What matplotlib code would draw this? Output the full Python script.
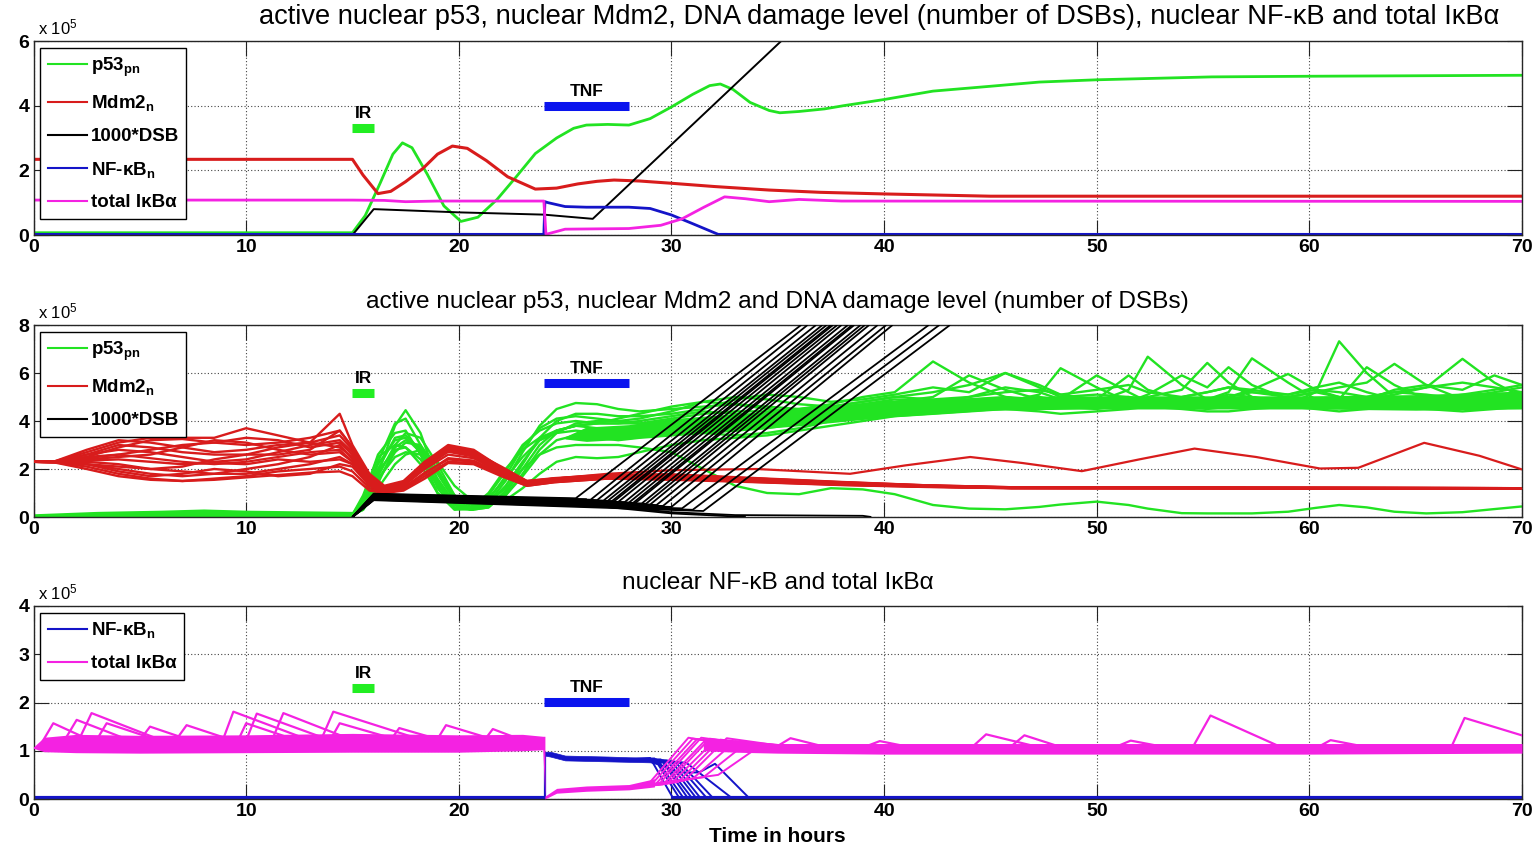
import numpy as np
import matplotlib
matplotlib.use('Agg')
import matplotlib.pyplot as plt
from matplotlib.lines import Line2D

plt.rcParams['font.family'] = ['Liberation Sans', 'DejaVu Sans']
plt.rcParams['mathtext.fontset'] = 'custom'
plt.rcParams['mathtext.rm'] = 'Liberation Sans'
plt.rcParams['mathtext.bf'] = 'Liberation Sans:bold'
plt.rcParams['mathtext.it'] = 'Liberation Sans:italic'

GREEN = '#22e322'
RED = '#d81c1c'
BLACK = '#000000'
BLUE = '#1414c8'
MAG = '#f422e2'
IRC = '#22ee22'
TNFC = '#0a14ee'

# ---------------- Panel 1 (single cell) ----------------
t_p53_1 = [0, 15, 15.6, 16.3, 16.9, 17.35, 17.8, 18.5, 19.3, 20.1, 20.9, 21.8, 22.7, 23.6, 24.6, 25.4, 26.0,
           27.0, 28.0, 29.0, 30.0, 31.0, 31.8, 32.3, 32.9, 33.7, 34.6, 35.1, 36.0, 37.2, 38.1, 40, 42.3, 45,
           47.3, 50, 55.4, 60, 70]
p53_1 = [0.07, 0.07, 0.6, 1.6, 2.5, 2.85, 2.7, 1.9, 0.9, 0.42, 0.55, 1.1, 1.8, 2.52, 3.0, 3.3, 3.4,
         3.42, 3.4, 3.6, 3.96, 4.35, 4.62, 4.67, 4.5, 4.1, 3.85, 3.78, 3.82, 3.9, 4.0, 4.19, 4.45, 4.6,
         4.73, 4.8, 4.89, 4.91, 4.94]
t_mdm2_1 = [0, 15, 15.5, 16.2, 16.8, 17.5, 18.3, 19.0, 19.7, 20.4, 21.3, 22.3, 23.6, 24.6, 25.6, 26.5, 27.3,
            28.5, 30, 32, 34.6, 37, 40, 45, 50, 70]
mdm2_1 = [2.34, 2.34, 1.85, 1.28, 1.35, 1.65, 2.05, 2.5, 2.75, 2.68, 2.3, 1.8, 1.42, 1.45, 1.58, 1.66, 1.7,
          1.67, 1.6, 1.5, 1.39, 1.32, 1.27, 1.2, 1.2, 1.2]
t_dsb_1 = [0, 15.0, 16.0, 20, 24, 26.3, 40]
dsb_1 = [0, 0, 0.8, 0.7, 0.63, 0.5, 9.0]
t_nfkb_1 = [0, 24.0, 24.05, 24.2, 25, 26, 28, 29, 30, 31, 32.2, 70]
nfkb_1 = [0.02, 0.02, 1.03, 1.0, 0.88, 0.86, 0.86, 0.82, 0.62, 0.35, 0.02, 0.02]
t_ikba_1 = [0, 15, 16.5, 17.5, 19, 24.0, 24.1, 25, 28, 29.5, 30.5, 31.5, 32.5, 33.5, 34.6, 36, 38, 70]
ikba_1 = [1.08, 1.08, 1.07, 1.03, 1.05, 1.05, 0.02, 0.18, 0.2, 0.3, 0.5, 0.85, 1.18, 1.12, 1.03, 1.1, 1.05, 1.04]

# ---------------- Panel 2 (ensemble: p53, Mdm2, DSB) ----------------
p53_pre_t = [0, 3, 6, 8, 10, 13, 15]
p53_pre_lo = [0.0, 0.0, 0.02, 0.03, 0.02, 0.02, 0.02]
p53_pre_hi = [0.1, 0.2, 0.25, 0.3, 0.25, 0.22, 0.2]

t_green_early = [15, 15.5, 16.2, 17.0, 17.5, 18.2, 19.0, 19.8, 20.6, 21.4, 22.2, 23.0, 23.8, 24.6, 25.5,
                 26.5, 27.5, 28.5, 30, 31.5, 33, 34.5, 36, 37.5, 39, 40.5]
green_early = [
    [0.1, 0.4, 1.8, 3.8, 4.45, 3.5, 1.5, 0.5, 0.3, 0.6, 1.5, 2.7, 3.8, 4.5, 4.75, 4.7, 4.5, 4.4, 4.5, 4.6, 4.7, 4.6, 4.5, 4.7, 5.0, 5.2],
    [0.1, 0.6, 2.3, 3.9, 4.1, 3.0, 1.2, 0.35, 0.3, 0.7, 1.7, 2.9, 3.7, 4.1, 4.2, 4.1, 4.0, 4.1, 4.4, 4.8, 5.0, 4.9, 4.7, 4.6, 4.8, 5.0],
    [0.1, 0.8, 2.6, 3.5, 3.6, 2.6, 1.0, 0.3, 0.35, 0.9, 1.9, 3.0, 3.6, 3.9, 4.0, 3.9, 3.9, 4.0, 4.2, 4.4, 4.3, 4.2, 4.3, 4.5, 4.7, 4.9],
    [0.1, 0.3, 1.4, 2.9, 3.2, 2.9, 1.8, 0.7, 0.3, 0.4, 1.0, 2.0, 3.0, 3.6, 3.8, 3.7, 3.6, 3.7, 3.9, 4.0, 4.0, 4.1, 4.2, 4.3, 4.5, 4.6],
    [0.1, 0.5, 1.9, 2.8, 2.9, 2.4, 1.3, 0.5, 0.4, 0.8, 1.6, 2.5, 3.2, 3.5, 3.6, 3.5, 3.5, 3.6, 3.8, 3.7, 3.6, 3.8, 4.0, 4.2, 4.4, 4.5],
    [0.1, 0.4, 1.6, 2.5, 2.7, 2.6, 1.9, 0.9, 0.5, 0.5, 0.9, 1.7, 2.6, 3.2, 3.4, 3.3, 3.2, 3.3, 3.4, 3.5, 3.6, 3.7, 3.9, 4.0, 4.2, 4.3],
    [0.1, 0.7, 2.2, 3.2, 3.3, 2.7, 1.4, 0.5, 0.3, 0.6, 1.3, 2.3, 3.2, 3.6, 3.8, 3.9, 4.1, 4.3, 4.6, 4.8, 4.7, 4.5, 4.4, 4.5, 4.6, 4.8],
    [0.1, 0.3, 1.2, 2.2, 2.6, 2.8, 2.3, 1.3, 0.7, 0.55, 0.7, 1.2, 1.8, 2.3, 2.5, 2.45, 2.5, 2.7, 3.0, 3.2, 3.3, 3.4, 3.6, 3.8, 4.0, 4.2],
    [0.1, 0.6, 2.0, 3.3, 3.4, 2.8, 1.6, 0.6, 0.35, 0.6, 1.2, 2.0, 2.6, 2.9, 3.0, 3.0, 3.0, 2.9, 2.7, 2.0, 1.3, 1.0, 0.95, 1.2, 1.15, 0.95],
    [0.1, 0.9, 2.5, 3.0, 2.9, 2.2, 1.0, 0.4, 0.4, 1.0, 2.0, 2.8, 3.3, 3.6, 3.8, 3.9, 3.9, 3.9, 4.1, 4.3, 4.4, 4.4, 4.5, 4.6, 4.8, 5.0],
    [0.1, 0.5, 1.7, 3.0, 3.5, 3.3, 2.2, 0.9, 0.4, 0.45, 0.9, 1.8, 2.8, 3.5, 3.9, 4.0, 4.0, 3.9, 3.7, 3.5, 3.4, 3.5, 3.7, 4.0, 4.3, 4.5],
    [0.1, 0.4, 1.5, 2.7, 3.1, 3.0, 2.0, 0.8, 0.3, 0.4, 1.1, 2.2, 3.3, 4.0, 4.3, 4.3, 4.2, 4.2, 4.3, 4.5, 4.9, 5.1, 5.0, 4.8, 4.9, 5.1],
]
t_green_late = [40.5, 42.3, 44, 45.7, 47.3, 48.3, 50, 51.5, 52.4, 54, 55.2, 56.2, 57.3, 59, 60.3, 61.4, 62.7,
                64.0, 65.5, 67.2, 68.7, 70]
green_late = [
    [5.2, 6.48, 5.6, 5.0, 4.9, 5.0, 5.1, 5.0, 4.9, 4.8, 4.9, 5.0, 5.2, 5.0, 4.9, 4.8, 5.0, 5.2, 5.1, 4.9, 5.0, 5.1],
    [5.0, 5.2, 5.5, 6.0, 5.4, 5.0, 4.8, 5.3, 6.68, 5.5, 4.9, 4.7, 4.8, 5.0, 5.2, 5.0, 4.8, 4.7, 4.9, 5.1, 5.3, 5.5],
    [4.9, 4.8, 4.6, 4.8, 5.1, 6.2, 5.4, 4.8, 4.6, 4.7, 4.9, 5.2, 6.61, 5.6, 4.9, 4.7, 4.6, 4.8, 5.0, 5.0, 4.9, 4.8],
    [4.6, 4.7, 4.9, 5.0, 4.8, 4.6, 4.5, 4.7, 5.0, 5.3, 6.42, 5.6, 5.0, 4.7, 5.2, 7.32, 6.0, 5.0, 4.6, 4.5, 4.7, 4.9],
    [4.5, 4.6, 4.7, 4.6, 4.5, 4.7, 4.9, 5.0, 4.8, 4.6, 4.5, 4.6, 4.8, 5.0, 5.2, 5.4, 5.6, 6.38, 5.5, 4.9, 4.7, 4.8],
    [4.3, 4.5, 4.7, 4.9, 5.0, 4.9, 5.9, 5.2, 4.8, 4.7, 4.9, 5.1, 5.0, 4.8, 4.6, 4.7, 4.9, 5.1, 5.4, 6.59, 5.6, 5.0],
    [4.8, 5.0, 5.9, 5.3, 4.9, 4.7, 4.6, 4.8, 5.1, 5.9, 5.4, 6.24, 5.5, 4.9, 4.7, 4.9, 6.24, 5.5, 4.9, 4.7, 4.6, 4.7],
    [4.2, 4.3, 4.4, 4.5, 4.4, 4.3, 4.4, 4.5, 4.6, 4.5, 4.4, 4.4, 4.5, 4.6, 4.5, 4.4, 4.5, 4.6, 4.5, 4.4, 4.5, 4.6],
    [0.95, 0.5, 0.35, 0.32, 0.42, 0.52, 0.64, 0.5, 0.35, 0.16, 0.15, 0.15, 0.15, 0.22, 0.38, 0.5, 0.4, 0.22, 0.15, 0.2, 0.33, 0.44],
    [5.0, 4.9, 5.0, 5.2, 5.3, 5.1, 4.9, 5.9, 5.3, 4.9, 4.8, 5.0, 5.3, 5.96, 5.3, 5.0, 4.9, 5.3, 5.5, 5.3, 5.9, 5.5],
    [4.5, 4.7, 5.0, 5.4, 5.2, 4.9, 4.8, 4.7, 4.8, 5.0, 5.2, 5.4, 5.3, 5.1, 5.4, 5.6, 5.2, 4.9, 4.8, 5.0, 5.2, 5.4],
    [5.1, 5.4, 5.2, 6.0, 5.5, 5.1, 5.3, 5.5, 5.2, 5.0, 5.2, 5.4, 5.2, 5.1, 5.3, 5.2, 5.0, 5.2, 5.4, 5.6, 5.4, 5.2],
]
green_band_t = [25.0, 26, 28, 30, 33, 36, 40, 45, 50, 55, 60, 65, 70]
green_band_lo = [3.25, 3.15, 3.25, 3.45, 3.6, 3.8, 4.15, 4.45, 4.5, 4.5, 4.5, 4.45, 4.5]
green_band_hi = [3.35, 3.75, 3.85, 4.1, 4.3, 4.5, 4.85, 5.0, 5.05, 5.05, 5.05, 5.1, 5.25]

t_red = [0, 1, 2.5, 4, 5.5, 7, 8.5, 10, 11.5, 13, 14.4, 15.0, 15.8, 16.5, 17.4, 18.4, 19.5, 20.7, 22, 23.2,
         24.5, 27, 30, 34, 38, 42, 46, 70]
red_lines = [
    [2.3, 2.32, 2.7, 3.1, 3.3, 3.3, 3.3, 3.7, 3.4, 3.1, 4.3, 3.0, 1.8, 1.3, 1.5, 2.3, 2.85, 2.7, 2.1, 1.5, 1.6, 1.75, 1.75, 1.6, 1.45, 1.32, 1.24, 1.2],
    [2.3, 2.3, 2.5, 2.9, 3.2, 3.25, 3.1, 3.0, 3.1, 3.3, 3.6, 2.9, 1.6, 1.15, 1.4, 2.25, 2.9, 2.65, 1.95, 1.4, 1.55, 1.7, 1.7, 1.55, 1.4, 1.3, 1.22, 1.2],
    [2.3, 2.28, 2.2, 2.0, 1.8, 1.7, 1.8, 2.0, 2.2, 2.5, 3.0, 2.4, 1.4, 1.05, 1.3, 2.0, 2.6, 2.45, 1.85, 1.35, 1.5, 1.65, 1.65, 1.5, 1.38, 1.28, 1.22, 1.2],
    [2.3, 2.27, 2.0, 1.7, 1.55, 1.5, 1.6, 1.7, 1.9, 2.0, 2.1, 1.9, 1.2, 1.0, 1.2, 1.8, 2.45, 2.35, 1.8, 1.33, 1.48, 1.62, 1.6, 1.48, 1.35, 1.27, 1.21, 1.19],
    [2.3, 2.31, 2.6, 2.8, 2.7, 2.5, 2.3, 2.4, 2.7, 3.0, 3.2, 2.7, 1.7, 1.25, 1.45, 2.2, 2.8, 2.6, 2.0, 1.45, 1.58, 1.72, 1.72, 1.58, 1.42, 1.3, 1.23, 1.2],
    [2.3, 2.3, 2.4, 2.5, 2.6, 2.9, 3.2, 3.1, 2.8, 2.6, 2.7, 2.3, 1.5, 1.1, 1.35, 2.15, 2.8, 2.6, 1.95, 1.42, 1.55, 1.68, 1.68, 1.52, 1.4, 1.28, 1.22, 1.2],
    [2.3, 2.29, 2.3, 2.2, 2.0, 2.1, 2.4, 2.6, 2.9, 3.1, 2.9, 2.5, 1.5, 1.1, 1.35, 2.1, 2.78, 2.58, 1.92, 1.38, 1.52, 1.66, 1.62, 1.5, 1.38, 1.27, 1.21, 1.19],
    [2.3, 2.3, 2.2, 1.9, 1.7, 1.8, 2.0, 1.9, 1.7, 1.8, 2.2, 2.1, 1.3, 1.0, 1.15, 1.7, 2.3, 2.25, 1.75, 1.3, 1.45, 1.6, 1.58, 1.46, 1.34, 1.26, 1.2, 1.18],
    [2.3, 2.32, 2.8, 3.2, 3.1, 2.9, 2.7, 2.8, 3.0, 3.1, 3.4, 2.8, 1.65, 1.2, 1.45, 2.3, 3.0, 2.8, 2.05, 1.5, 1.62, 1.76, 1.78, 1.62, 1.46, 1.32, 1.24, 1.2],
    [2.3, 2.28, 2.1, 1.8, 1.6, 1.5, 1.55, 1.65, 1.75, 1.85, 1.9, 1.7, 1.1, 1.0, 1.1, 1.6, 2.25, 2.2, 1.7, 1.3, 1.45, 1.6, 1.55, 1.45, 1.33, 1.25, 1.2, 1.18],
    [2.3, 2.31, 2.5, 2.6, 2.8, 3.0, 3.1, 3.3, 3.2, 2.9, 3.1, 2.6, 1.55, 1.15, 1.38, 2.2, 2.85, 2.65, 2.0, 1.45, 1.57, 1.7, 1.7, 1.55, 1.42, 1.3, 1.22, 1.2],
    [2.3, 2.29, 2.35, 2.4, 2.3, 2.2, 2.25, 2.2, 2.4, 2.3, 2.4, 2.2, 1.4, 1.05, 1.3, 2.05, 2.72, 2.52, 1.88, 1.36, 1.5, 1.64, 1.63, 1.5, 1.38, 1.28, 1.21, 1.19],
    [2.3, 2.3, 2.6, 3.0, 2.9, 2.7, 2.6, 2.6, 2.6, 2.8, 3.6, 2.9, 1.7, 1.25, 1.45, 2.25, 2.95, 2.75, 2.05, 1.48, 1.6, 1.74, 1.75, 1.6, 1.44, 1.31, 1.23, 1.2],
    [2.3, 2.28, 2.2, 2.1, 2.0, 1.9, 1.8, 1.8, 2.0, 2.2, 2.5, 2.2, 1.35, 1.05, 1.22, 1.85, 2.4, 2.3, 1.78, 1.34, 1.48, 1.62, 1.6, 1.48, 1.36, 1.27, 1.21, 1.19],
]
t_red_out = [0, 1, 2.5, 4, 5.5, 7, 8.5, 10, 11.5, 13, 14.4, 15.0, 15.8, 16.5, 17.4, 18.4, 19.5, 20.7, 22, 23.2,
             24.5, 27, 30, 34, 38.4, 41, 44.05, 46.5, 49.3, 52, 54.6, 57.5, 60.5, 62.3, 65.4, 68, 70]
red_out = [2.3, 2.3, 2.45, 2.6, 2.45, 2.3, 2.2, 2.3, 2.5, 2.7, 2.8, 2.3, 1.45, 1.1, 1.35, 2.1, 2.75, 2.6, 1.95, 1.45,
           1.6, 1.8, 1.95, 2.0, 1.8, 2.15, 2.5, 2.25, 1.91, 2.4, 2.85, 2.5, 2.02, 2.05, 3.09, 2.55, 1.98]
red_band_t = [24.5, 27, 30, 34, 38, 42, 46, 70]
red_band_lo = [1.45, 1.6, 1.58, 1.46, 1.34, 1.26, 1.2, 1.18]
red_band_hi = [1.62, 1.76, 1.78, 1.62, 1.46, 1.32, 1.24, 1.22]

dsb_y16 = [0.97, 0.96, 0.95, 0.93, 0.92, 0.9, 0.89, 0.88, 0.87, 0.85, 0.84, 0.82, 0.8, 0.79, 0.78, 0.77, 0.75,
           0.74, 0.73, 0.72, 0.7]
dsb_ts = [25.5, 26.2, 26.5, 26.8, 27.0, 27.2, 27.3, 27.5, 27.8, 28.0, 28.2, 28.3, 28.6, 28.8, 29.0, 29.3, 29.6,
          30.0, 30.5, 31.0, 31.5]
dsb_ys = [0.78, 0.72, 0.7, 0.68, 0.67, 0.66, 0.65, 0.63, 0.62, 0.6, 0.59, 0.58, 0.56, 0.55, 0.52, 0.5, 0.46,
          0.42, 0.36, 0.3, 0.25]
dsb_ttop = [36.1, 36.4, 36.8, 37.1, 37.3, 37.5, 37.6, 37.8, 38.0, 38.3, 38.5, 38.6, 38.9, 39.1, 39.3, 39.7, 40.1,
            40.4, 42.1, 42.6, 43.1]
t_dsb_flat1 = [15, 16, 20, 26, 30, 33, 39, 39.4]
dsb_flat1 = [0, 0.8, 0.7, 0.55, 0.2, 0.08, 0.05, 0]
t_dsb_flat2 = [15, 16, 20, 26, 30, 33.5]
dsb_flat2 = [0, 0.75, 0.65, 0.5, 0.15, 0]
dsb_band_t = [15, 16, 20, 24, 26]
dsb_band_lo = [0, 0.72, 0.65, 0.58, 0.52]
dsb_band_hi = [0, 0.97, 0.9, 0.84, 0.8]

# ---------------- Panel 3 (ensemble: NF-kB, IkBa) ----------------
ikb_pre_t = [0, 0.5, 2, 5, 10, 15, 20, 23, 23.95, 24.05]
ikb_pre_lo = [1.05, 0.98, 0.96, 0.95, 0.96, 0.97, 0.97, 1.0, 1.02, 0.0]
ikb_pre_hi = [1.08, 1.28, 1.34, 1.32, 1.33, 1.36, 1.33, 1.34, 1.3, 1.3]
ikb_pre_sp_t0 = [0.3, 1.3, 2.0, 2.8, 4.8, 6.5, 8.8, 9.5, 9.9, 11.1, 13.4, 13.8, 16.6, 18.8, 21.0]
ikb_pre_sp_tp = [0.93, 2.03, 2.73, 3.44, 5.48, 7.2, 9.4, 10.0, 10.5, 11.75, 14.1, 14.4, 17.2, 19.4, 21.6]
ikb_pre_sp_yp = [1.57, 1.64, 1.78, 1.57, 1.5, 1.53, 1.81, 1.57, 1.77, 1.78, 1.81, 1.57, 1.47, 1.53, 1.45]
ikb_pre_sp_t1 = [3.5, 5.5, 7.0, 7.0, 8.5, 10.5, 14.0, 13.5, 15.0, 16.0, 19.5, 18.5, 20.5, 23.0, 24.0]
ikb_low_t = [24.05, 24.6, 26, 28, 29.2]
ikb_low_lo = [0.0, 0.12, 0.16, 0.19, 0.25]
ikb_low_hi = [0.06, 0.22, 0.27, 0.3, 0.42]
ikb_tr = [28.8, 29.0, 29.2, 29.4, 29.6, 29.8, 30.0, 30.3, 30.6, 31.0, 31.5, 32.2]
ikb_yr = [0.25, 0.27, 0.28, 0.3, 0.3, 0.32, 0.33, 0.35, 0.38, 0.42, 0.45, 0.5]
ikb_tp = [30.8, 31.0, 31.2, 31.4, 31.6, 31.8, 32.0, 32.3, 32.6, 33.0, 33.5, 34.0]
ikb_yp = [1.27, 1.25, 1.24, 1.27, 1.22, 1.25, 1.2, 1.23, 1.26, 1.2, 1.15, 1.05]
ikb_ts = [33.5, 34, 34, 34.5, 34.5, 35, 35, 35.5, 35.5, 36, 36.5, 37]
ikb_post_t = [31.5, 33, 35, 40, 50, 60, 70]
ikb_post_lo = [1.0, 0.97, 0.95, 0.93, 0.93, 0.93, 0.95]
ikb_post_hi = [1.25, 1.2, 1.15, 1.15, 1.15, 1.15, 1.15]
ikb_post_sp_t0 = [35.0, 39.2, 44.2, 46.0, 51.0, 54.55, 60.5, 66.7]
ikb_post_sp_tp = [35.6, 39.8, 44.8, 46.6, 51.6, 55.35, 61.0, 67.3]
ikb_post_sp_yp = [1.26, 1.2, 1.34, 1.32, 1.21, 1.73, 1.22, 1.68]
ikb_post_sp_t1 = [37.5, 41.5, 47.5, 48.5, 53.5, 58.8, 63.0, 72.0]

nf_base_t = [0, 24.05]
nf_base_v = [0.02, 0.02]
nf_base2_t = [30, 70]
nf_base2_v = [0.02, 0.02]
nf_plat_t = [24.05, 24.3, 25, 27, 29, 29.5]
nf_plat_lo = [0.9, 0.88, 0.8, 0.78, 0.76, 0.7]
nf_plat_hi = [0.98, 0.98, 0.9, 0.88, 0.85, 0.82]
nf_t0 = [29.0, 29.2, 29.3, 29.5, 29.6, 29.8, 30.0, 30.2, 30.4]
nf_y0 = [0.85, 0.84, 0.82, 0.82, 0.8, 0.8, 0.78, 0.76, 0.75]
nf_tz = [30.1, 30.4, 30.6, 30.8, 31.0, 31.2, 31.4, 31.7, 32.0]
t_nf_late1 = [29.0, 30.0, 30.7, 32.9]
nf_late1 = [0.82, 0.78, 0.75, 0.0]
t_nf_late2 = [29.0, 30.3, 31.3, 32.05, 33.7]
nf_late2 = [0.8, 0.55, 0.55, 0.73, 0.0]

# stimulus markers
ir_span = [15, 16]
tnf_span = [24, 28]

# ---------------- Figure ----------------
fig = plt.figure(figsize=(15.39, 8.5), dpi=100)
W, H = 1539.0, 850.0
def axpos(top, bottom, left=33.5, right=1522):
    return [left / W, 1 - bottom / H, (right - left) / W, (bottom - top) / H]

ax1 = fig.add_axes(axpos(41, 235))
ax2 = fig.add_axes(axpos(325, 517))
ax3 = fig.add_axes(axpos(606, 799))

LW = 1.6

def pl(ax, t, v, c, lw=LW, z=2):
    ax.plot(t, v, color=c, lw=lw, solid_joinstyle='round', solid_capstyle='butt', zorder=z)

def style(ax, ymax, yticks, title, title_x=0.5, title_size=17.6):
    ax.set_xlim(0, 70)
    ax.set_ylim(0, ymax)
    ax.set_xticks(range(0, 71, 10))
    ax.set_yticks(yticks)
    ax.grid(True, linestyle=(0, (1, 2)), color='#444444', lw=0.8)
    ax.set_axisbelow(True)
    ax.tick_params(direction='in', length=11, width=0.8, top=True, right=True,
                   labelsize=14, pad=3, colors='#222222', labelcolor='black')
    for lb in ax.get_xticklabels() + ax.get_yticklabels():
        lb.set_fontweight('bold')
    for s in ax.spines.values():
        s.set_color('#262626')
        s.set_linewidth(1.0)
    ax.text(0.003, 1.018, r'x 10$^{5}$', transform=ax.transAxes, ha='left', va='bottom', fontsize=12)
    ax.set_title(title, fontsize=title_size, pad=12, x=title_x)

def stim(ax, y_ir, y_tnf, d):
    ax.plot(ir_span, [y_ir, y_ir], color=IRC, lw=6.5, solid_capstyle='butt', zorder=5)
    ax.plot(tnf_span, [y_tnf, y_tnf], color=TNFC, lw=6.5, solid_capstyle='butt', zorder=5)
    ax.text(np.mean(ir_span), y_ir + d, 'IR', ha='center', va='bottom', fontsize=12.5, fontweight='bold', zorder=6)
    ax.text(np.mean(tnf_span), y_tnf + d, 'TNF', ha='center', va='bottom', fontsize=12.5, fontweight='bold', zorder=6)

def legend(ax, items, top_px, ax_top_px, ax_bot_px):
    handles = [Line2D([], [], color=c, lw=1.5) for c, _ in items]
    labels = [l for _, l in items]
    yfrac = (ax_bot_px - top_px) / (ax_bot_px - ax_top_px)
    lg = ax.legend(handles, labels, loc='upper left', bbox_to_anchor=((40 - 33.5) / 1488.5, yfrac),
                   fancybox=False, framealpha=1, edgecolor='black', handlelength=2.1,
                   handletextpad=0.2, borderpad=0.4, labelspacing=0.78, borderaxespad=0,
                   prop={'weight': 'bold', 'size': 13.5})
    lg.get_frame().set_linewidth(1.0)
    lg.set_zorder(10)

lab_p53 = r'p53$_{\mathbf{pn}}$'
lab_mdm2 = r'Mdm2$_{\mathbf{n}}$'
lab_dsb = '1000*DSB'
lab_nfkb = r'NF-κB$_{\mathbf{n}}$'
lab_ikb = 'total IκBα'

# Panel 1
pl(ax1, t_p53_1, p53_1, GREEN, 2.0)
pl(ax1, t_mdm2_1, mdm2_1, RED, 2.2)
pl(ax1, t_dsb_1, dsb_1, BLACK, 1.4)
pl(ax1, t_nfkb_1, nfkb_1, BLUE, 2.0)
pl(ax1, t_ikba_1, ikba_1, MAG, 2.0)
style(ax1, 6, [0, 2, 4, 6],
      'active nuclear p53, nuclear Mdm2, DNA damage level (number of DSBs), nuclear NF-κB and total IκBα',
      title_x=0.568, title_size=19.6)
stim(ax1, 3.3, 4.0, 0.22)
legend(ax1, [(GREEN, lab_p53), (RED, lab_mdm2), (BLACK, lab_dsb), (BLUE, lab_nfkb), (MAG, lab_ikb)], 48, 41, 235)

# Panel 2
ax2.fill_between(p53_pre_t, p53_pre_lo, p53_pre_hi, color=GREEN, lw=1.2, zorder=2)
ax2.fill_between(green_band_t, green_band_lo, green_band_hi, color=GREEN, lw=0, zorder=2)
for e, l in zip(green_early, green_late):
    pl(ax2, t_green_early + t_green_late[1:], e + l[1:], GREEN, 1.7)
ax2.fill_between(red_band_t, red_band_lo, red_band_hi, color=RED, lw=0, zorder=3)
for r in red_lines:
    pl(ax2, t_red, r, RED, 1.7, 3)
pl(ax2, t_red_out, red_out, RED, 1.6, 3)
ax2.fill_between(dsb_band_t, dsb_band_lo, dsb_band_hi, color=BLACK, lw=0, zorder=4)
for y16, ts, ys, tt in zip(dsb_y16, dsb_ts, dsb_ys, dsb_ttop):
    pl(ax2, [15, 16, ts, tt], [0, y16, ys, 8.0], BLACK, 1.3, 4)
pl(ax2, t_dsb_flat1, dsb_flat1, BLACK, 1.3, 4)
pl(ax2, t_dsb_flat2, dsb_flat2, BLACK, 1.3, 4)
style(ax2, 8, [0, 2, 4, 6, 8], 'active nuclear p53, nuclear Mdm2 and DNA damage level (number of DSBs)')
stim(ax2, 5.17, 5.58, 0.3)
legend(ax2, [(GREEN, lab_p53), (RED, lab_mdm2), (BLACK, lab_dsb)], 332, 325, 517)

# Panel 3
pl(ax3, nf_base_t, nf_base_v, BLUE, 3.0)
pl(ax3, nf_base2_t, nf_base2_v, BLUE, 3.0)
pl(ax3, [24.05, 24.05], [0.0, 0.98], BLUE, 1.6)
ax3.fill_between(nf_plat_t, nf_plat_lo, nf_plat_hi, color=BLUE, lw=0.5, zorder=2)
for t0, y0, tz in zip(nf_t0, nf_y0, nf_tz):
    pl(ax3, [27.5, t0, tz], [0.82, y0, 0.0], BLUE, 1.4)
pl(ax3, t_nf_late1, nf_late1, BLUE, 1.4)
pl(ax3, t_nf_late2, nf_late2, BLUE, 1.4)

ax3.fill_between(ikb_pre_t, ikb_pre_lo, ikb_pre_hi, color=MAG, lw=0, zorder=3)
for t0, tp, yp, t1 in zip(ikb_pre_sp_t0, ikb_pre_sp_tp, ikb_pre_sp_yp, ikb_pre_sp_t1):
    pl(ax3, [t0, tp, t1], [1.1, yp, 1.05], MAG, 1.6, 3)
ax3.fill_between(ikb_low_t, ikb_low_lo, ikb_low_hi, color=MAG, lw=0, zorder=3)
for tr, yr, tp, yp, ts in zip(ikb_tr, ikb_yr, ikb_tp, ikb_yp, ikb_ts):
    pl(ax3, [28.0, tr, tp, ts], [0.24, yr, yp, 1.08], MAG, 1.4, 3)
ax3.fill_between(ikb_post_t, ikb_post_lo, ikb_post_hi, color=MAG, lw=0, zorder=3)
for t0, tp, yp, t1 in zip(ikb_post_sp_t0, ikb_post_sp_tp, ikb_post_sp_yp, ikb_post_sp_t1):
    pl(ax3, [t0, tp, t1], [1.1, yp, 1.05], MAG, 1.6, 3)
style(ax3, 4, [0, 1, 2, 3, 4], 'nuclear NF-κB and total IκBα')
stim(ax3, 2.3, 2.01, 0.14)
legend(ax3, [(BLUE, lab_nfkb), (MAG, lab_ikb)], 613, 606, 799)
ax3.set_xlabel('Time in hours', fontsize=15, fontweight='bold', labelpad=5)

fig.savefig('out.png', dpi=100)
